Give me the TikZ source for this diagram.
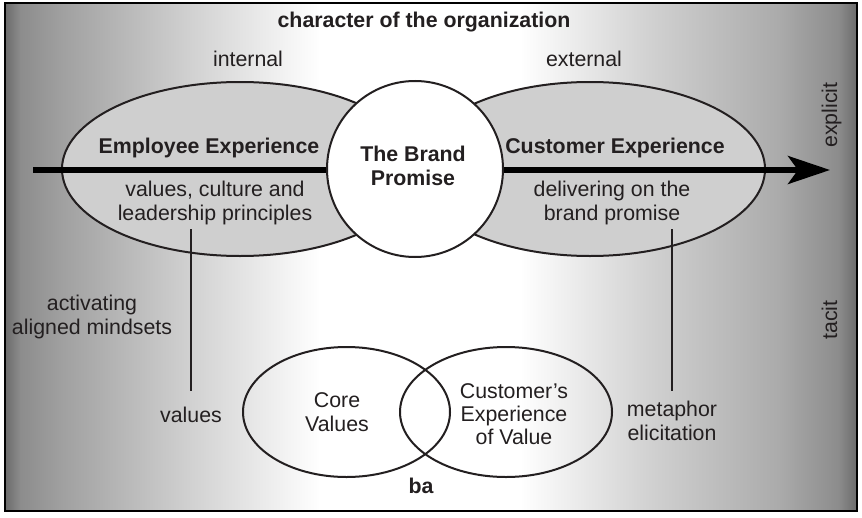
\documentclass[tikz,border=0pt]{standalone}
\usepackage{fontspec}
\setmainfont{Liberation Sans}
\usepackage{tikz}
\usetikzlibrary{arrows.meta}

\definecolor{inkgray}{HTML}{231F20}
\definecolor{lensgray}{HTML}{CFCFCF}
\pgfdeclarehorizontalshading{sidefade}{100bp}{color(0bp)=(black!58); color(25bp)=(black!58); color(25.9bp)=(black!45); color(28.4bp)=(black!37); color(35.9bp)=(black!18); color(43.5bp)=(white); color(55.2bp)=(white); color(62.8bp)=(black!18); color(70.4bp)=(black!33); color(73.9bp)=(black!45); color(75bp)=(black!58); color(100bp)=(black!58)}

\begin{document}
\begin{tikzpicture}[x=0.75pt,y=-0.75pt,
	txt/.style={text=inkgray,font=\fontsize{16}{17.5}\selectfont,align=center},
	hdr/.style={txt,font=\fontsize{16}{17.5}\selectfont\bfseries},
	lens/.style={line width=1.5pt,draw=inkgray},
	link/.style={line width=1.5pt,draw=inkgray},
	axis/.style={line width=4pt,draw=black,-{Stealth[length=31.5pt,width=21pt,inset=7.5pt]}}]
	\useasboundingbox (0,0) rectangle (862,517);
	% frame
	\shade[shading=sidefade] (5,3) rectangle (857,511);
	\draw[line width=2pt] (5,3) rectangle (857,511);
	% experiences and the brand promise
	\filldraw[lens,fill=lensgray] (240,169) ellipse [x radius=178, y radius=87];
	\filldraw[lens,fill=lensgray] (590,169) ellipse [x radius=175, y radius=87];
	\coordinate (astart) at (33,170);
	\coordinate (atip) at (830,170);
	\draw[axis] (astart) -- (atip);
	\filldraw[lens,fill=white] (415,169) circle [radius=88];
	% ba
	\draw[lens] (346.5,412) ellipse [x radius=103.5, y radius=65];
	\draw[lens] (506,412) ellipse [x radius=106, y radius=65];
	% labels
	\node[hdr,anchor=base] (title) at (424,28) {character of the organization};
	\node[txt,anchor=base] (intl) at (248,66) {internal};
	\node[txt,anchor=base] (extl) at (584,66) {external};
	\node[hdr,anchor=base] (empexp) at (209,153) {Employee Experience};
	\node[hdr,anchor=base] (cusexp) at (615,153) {Customer Experience};
	\node[txt] (empdesc) at (215,203) {values, culture and\\leadership principles};
	\node[txt] (cusdesc) at (612,203) {delivering on the\\brand promise};
	\node[hdr] (brand) at (413,166) {The Brand\\Promise};
	\node[txt] (activ) at (92,317) {activating\\aligned mindsets};
	\node[txt,anchor=base] (vals) at (191,422) {values};
	\node[txt] (meta) at (672,421) {metaphor\\elicitation};
	\node[txt] (corev) at (337,412) {Core\\Values};
	\node[txt] (custv) at (514,414) {Customer’s\\Experience\\of Value};
	\node[hdr,anchor=base] (ba) at (421,493) {ba};
	\node[txt,anchor=base,rotate=90] (expl) at (837,115) {explicit};
	\node[txt,anchor=base,rotate=90] (tacit) at (837,320) {tacit};
	% links down to ba
	\draw[link,shorten >=8pt] (vals.north |- empdesc.south) -- (vals.north);
	\draw[link,shorten >=4.5pt] (meta.north |- cusdesc.south) -- (meta.north);
\end{tikzpicture}
\end{document}
